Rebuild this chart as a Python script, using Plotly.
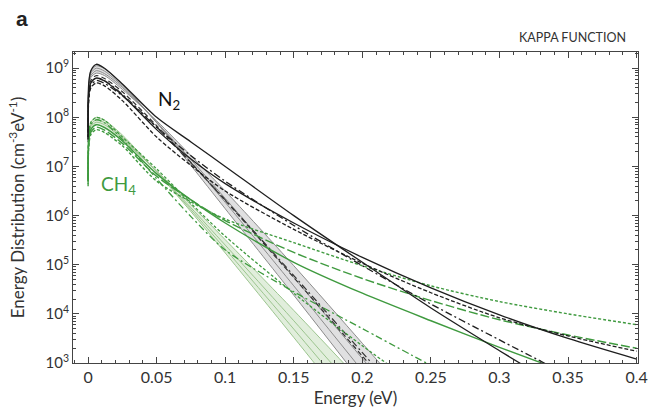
import numpy as np
import plotly.graph_objects as go

# Energy sample points (eV) shared by all curves
energy = [0.00002, 0.0005, 0.002, 0.006, 0.012, 0.025, 0.05, 0.075, 0.1,
          0.15, 0.2, 0.25, 0.3, 0.35, 0.4]

# Values, in decades (log10 of cm^-3 eV^-1)
# N2 near-Maxwellian gray bundle
n2_gray_1 = [7.6, 8.67, 8.94, 9.05, 8.99, 8.67, 7.89, 7.02, 6.14, 4.38, 2.59, 0.78]
n2_gray_2 = [7.6, 8.64, 8.90, 9.00, 8.94, 8.64, 7.90, 7.09, 6.27, 4.57, 2.84]
n2_gray_3 = [7.6, 8.61, 8.85, 8.95, 8.89, 8.61, 7.90, 7.14, 6.35, 4.74, 3.09, 1.44]
n2_gray_4 = [7.6, 8.57, 8.81, 8.90, 8.85, 8.57, 7.93, 7.22, 6.50, 4.98, 3.40, 1.80]
n2_band_dash = [7.55, 8.52, 8.75, 8.85, 8.79, 8.52, 7.83, 7.08, 6.31, 4.74, 3.14, 1.53]
n2_band_dashdot = [7.5, 8.47, 8.71, 8.80, 8.75, 8.47, 7.80, 7.07, 6.32, 4.78, 3.21, 1.64]
# N2 kappa curves (black)
n2_solid_a = [7.6, 8.45, 8.70, 8.80, 8.74, 8.45, 7.75, 7.15, 6.65, 5.85, 5.15, 4.53, 3.98, 3.50, 3.08]
n2_dash_b = [7.55, 8.35, 8.60, 8.70, 8.64, 8.34, 7.60, 7.02, 6.50, 5.72, 5.03, 4.43, 3.92, 3.55, 3.24]
n2_dashdot_c = [7.6, 8.40, 8.65, 8.75, 8.69, 8.44, 7.80, 7.22, 6.70, 5.80, 4.98, 4.20, 3.47, 2.75]
n2_solid_d = [7.7, 8.70, 8.95, 9.08, 9.00, 8.68, 8.00, 7.50, 7.00, 6.00, 5.05, 4.12, 3.25, 2.40]

# CH4 near-Maxwellian light green bundle
ch4_band_1 = [6.7, 7.64, 7.90, 8.00, 7.94, 7.64, 6.89, 6.08, 5.24, 3.52, 1.78]
ch4_band_2 = [6.7, 7.60, 7.85, 7.95, 7.89, 7.60, 6.89, 6.12, 5.32, 3.69, 2.03]
ch4_band_3 = [6.7, 7.57, 7.81, 7.90, 7.85, 7.57, 6.89, 6.16, 5.40, 3.86, 2.28]
ch4_band_4 = [6.7, 7.54, 7.76, 7.85, 7.80, 7.54, 6.91, 6.22, 5.51, 4.07, 2.59]
# CH4 kappa curves (green)
ch4_dot_a = [6.6, 7.40, 7.65, 7.75, 7.69, 7.42, 6.70, 6.28, 5.93, 5.45, 4.98, 4.57, 4.25, 4.00, 3.78]
ch4_longdash_b = [6.65, 7.45, 7.70, 7.80, 7.74, 7.47, 6.80, 6.32, 5.90, 5.25, 4.72, 4.27, 3.88, 3.57, 3.30]
ch4_solid_c = [6.7, 7.50, 7.75, 7.85, 7.79, 7.52, 6.85, 6.32, 5.85, 5.05, 4.42, 3.86, 3.32, 2.80]
ch4_dashdot_e = [6.75, 7.60, 7.85, 7.95, 7.89, 7.55, 6.75, 5.98, 5.30, 4.45, 3.70, 2.95]
ch4_dot_f = [6.75, 7.65, 7.90, 8.00, 7.94, 7.60, 6.95, 6.25, 5.58, 4.42, 3.35, 2.35]

x_tick_vals = [0, 0.05, 0.1, 0.15, 0.2, 0.25, 0.3, 0.35, 0.4]
x_tick_text = ["0", "0.05", "0.1", "0.15", "0.2", "0.25", "0.3", "0.35", "0.4"]
y_tick_exp = [3, 4, 5, 6, 7, 8, 9]

BLACK = "#1e1e1e"
GRAY = "#8c8c8c"
GREEN = "#3f9a3f"
LGREEN = "#9cc58f"
FONT = "Lato"
TXT = "#333333"

fig = go.Figure()


def add(vals, color, width=1.2, dash="solid", fill=None, fillcolor=None):
    xs = energy[:len(vals)]
    ys = np.power(10.0, np.array(vals))
    fig.add_trace(go.Scatter(
        x=xs, y=ys, mode="lines",
        line=dict(color=color, width=width, dash=dash, shape="spline", smoothing=0.8),
        fill=fill, fillcolor=fillcolor, hoverinfo="skip", showlegend=False))


# CH4 light green band
add(ch4_band_4[:11], LGREEN, 1.0)
add(ch4_band_1[:11], LGREEN, 1.0, fill="tonexty", fillcolor="rgba(170,205,155,0.35)")
add(ch4_band_2, LGREEN, 1.0)
add(ch4_band_3, LGREEN, 1.0)

# N2 gray band
add(n2_gray_4, GRAY, 1.0)
add(n2_gray_1[:12], GRAY, 1.0, fill="tonexty", fillcolor="rgba(165,165,170,0.35)")
add(n2_gray_2, GRAY, 1.0)
add(n2_gray_3, GRAY, 1.0)
add(n2_band_dash, "#333333", 1.2, "5px,3px")
add(n2_band_dashdot, "#333333", 1.2, "7px,3px,2px,3px")

# CH4 kappa curves
add(ch4_dot_a, GREEN, 1.4, "3px,2px")
add(ch4_longdash_b, GREEN, 1.4, "9px,3px")
add(ch4_solid_c, GREEN, 1.4)
add(ch4_dashdot_e, GREEN, 1.3, "7px,3px,2px,3px")
add(ch4_dot_f, GREEN, 1.3, "3px,2px")

# N2 kappa curves
add(n2_solid_a, BLACK, 1.3)
add(n2_dash_b, BLACK, 1.3, "4px,2px")
add(n2_dashdot_c, BLACK, 1.3, "7px,3px,2px,3px")
add(n2_solid_d, BLACK, 1.3)

fig.update_layout(
    width=650, height=414,
    margin=dict(l=73, r=12, t=52, b=51),
    paper_bgcolor="white", plot_bgcolor="white",
    font=dict(family=FONT, color=TXT, size=14),
    showlegend=False,
)

fig.update_xaxes(
    range=[-0.011, 0.401], showgrid=False, zeroline=False, automargin=False,
    showline=True, linecolor="#444444", linewidth=1, mirror="allticks",
    ticks="inside", ticklen=6, tickcolor="#444444",
    tickvals=x_tick_vals, ticktext=x_tick_text,
    tickfont=dict(size=16, family=FONT, color=TXT),
    minor=dict(dtick=0.01, ticks="inside", ticklen=3, tickcolor="#444444"),
    title=dict(text="Energy (eV)", font=dict(size=17, family=FONT, color=TXT), standoff=6),
)

fig.update_yaxes(
    type="log", range=[3, 9.33], showgrid=False, zeroline=False, automargin=False,
    showline=True, linecolor="#444444", linewidth=1, mirror="allticks",
    ticks="inside", ticklen=6, tickcolor="#444444",
    tickvals=[10.0 ** e for e in y_tick_exp],
    ticktext=["10<sup>%d</sup>" % e for e in y_tick_exp],
    tickfont=dict(size=15, family=FONT, color=TXT),
    minor=dict(ticks="inside", ticklen=3, tickcolor="#444444", dtick="D1"),
    title=dict(text="Energy Distribution (cm<sup>-3</sup>eV<sup>-1</sup>)",
               font=dict(size=17, family=FONT, color=TXT), standoff=16),
)

fig.add_annotation(x=-0.104, y=1.109, xref="paper", yref="paper", text="<b>a</b>",
                   showarrow=False, xanchor="left", yanchor="middle",
                   font=dict(size=21, family="Liberation Sans", color="#222222"))
fig.add_annotation(x=0.982, y=1.048, xref="paper", yref="paper", text="KAPPA FUNCTION",
                   showarrow=False, xanchor="right", yanchor="middle",
                   font=dict(size=12.5, family=FONT, color=TXT))
fig.add_annotation(x=0.059, y=8.35, xref="x", yref="y", text="N<sub>2</sub>",
                   showarrow=False, font=dict(size=19, family=FONT, color="#111111"))
fig.add_annotation(x=0.022, y=6.62, xref="x", yref="y", text="CH<sub>4</sub>",
                   showarrow=False, font=dict(size=19, family=FONT, color=GREEN))

fig.write_html("out.html")
